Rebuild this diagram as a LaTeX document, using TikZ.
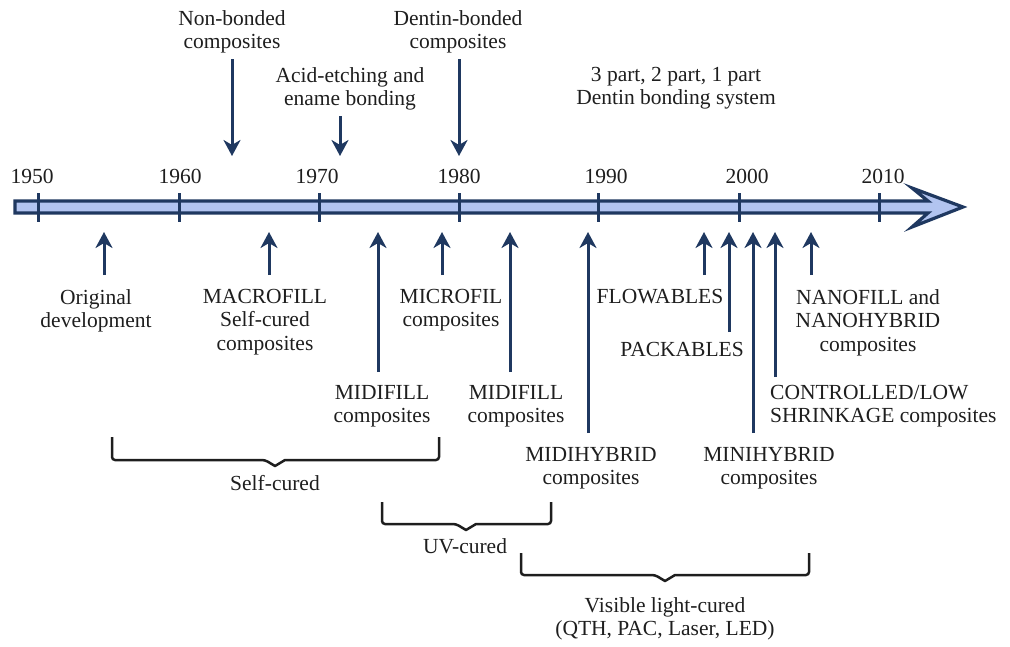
\documentclass[tikz,border=0pt]{standalone}
\usepackage{fontspec}
\setmainfont{Liberation Serif}
\usetikzlibrary{arrows.meta,calc}
\definecolor{navy}{RGB}{31,56,96}
\definecolor{barfill}{RGB}{178,196,240}
\definecolor{txt}{RGB}{30,30,30}
\begin{document}
\begin{tikzpicture}[x=1pt,y=-1pt,
 lbl/.style={font=\fontsize{21.5}{23.5}\selectfont, text=txt, inner sep=0pt, align=center, anchor=north},
 yr/.style={font=\fontsize{21.5}{23.5}\selectfont, text=txt, inner sep=0pt, anchor=base},
 arr/.style={draw=navy, line width=3pt, -{Stealth[length=16pt,width=17pt,inset=5pt]}},
 tickmark/.style={draw=navy, line width=3pt},
 brace/.style={draw=txt, line width=2.5pt, rounded corners=3pt, line join=round}]
\useasboundingbox (0,0) rectangle (1010,646);

% timeline bar with arrow head
\draw[navy, fill=barfill, line width=3.2pt, line join=miter]
  (15,201) -- (928,201) -- (912,188) -- (963,207) -- (912,227) -- (928,213) -- (15,213) -- cycle;

% ticks and years
\foreach \x in {38,179,319,459,598,739,879} { \draw[tickmark] (\x,193) -- (\x,222); }
\node[yr] (y1950) at (32,183) {1950};
\node[yr] (y1960) at (180,183) {1960};
\node[yr] (y1970) at (317,183) {1970};
\node[yr] (y1980) at (459,183) {1980};
\node[yr] (y1990) at (606,183) {1990};
\node[yr] (y2000) at (747,183) {2000};
\node[yr] (y2010) at (883,183) {2010};

% top labels
\node[lbl] (nonb) at (232,10) {Non-bonded\\composites};
\node[lbl] (acid) at (350,67) {Acid-etching and\\ename bonding};
\node[lbl] (dent) at (458,10) {Dentin-bonded\\composites};
\node[lbl] (part) at (676,67) {3 part, 2 part, 1 part\\Dentin bonding system};

\coordinate (dn1) at (232,156);
\coordinate (dn2) at (340,156);
\coordinate (dn3) at (459,156);
\draw[arr] ($(nonb.south -| dn1)+(0,6)$) -- (dn1);
\draw[arr] ($(acid.south -| dn2)+(0,6)$) -- (dn2);
\draw[arr] ($(dent.south -| dn3)+(0,6)$) -- (dn3);

% bottom labels
\node[lbl] (orig) at (96,289) {Original\\development};
\node[lbl] (macro) at (265,289) {MACROFILL\\Self-cured\\composites};
\node[lbl] (micro) at (451,289) {MICROFIL\\composites};
\node[lbl] (midi1) at (382,385) {MIDIFILL\\composites};
\node[lbl] (midi2) at (516,385) {MIDIFILL\\composites};
\node[lbl] (midih) at (591,447) {MIDIHYBRID\\composites};
\node[lbl] (flow) at (660,289) {FLOWABLES};
\node[lbl] (pack) at (682,342) {PACKABLES};
\node[lbl] (minih) at (769,447) {MINIHYBRID\\composites};
\node[lbl, align=left, anchor=north west] (ctrl) at (770,385) {CONTROLLED/LOW\\SHRINKAGE composites};
\node[lbl] (nano) at (868,289) {NANOFILL and\\NANOHYBRID\\composites};

\coordinate (u1) at (104,232);
\coordinate (u2) at (269,232);
\coordinate (u3) at (378,232);
\coordinate (u4) at (442,232);
\coordinate (u5) at (510,232);
\coordinate (u6) at (588,232);
\coordinate (u7) at (704,232);
\coordinate (u8) at (729,232);
\coordinate (u9) at (753,232);
\coordinate (u10) at (775,232);
\coordinate (u11) at (811,232);

\draw[arr] ($(orig.north -| u1)+(0,-14)$) -- (u1);
\draw[arr] ($(macro.north -| u2)+(0,-14)$) -- (u2);
\draw[arr] ($(midi1.north -| u3)+(0,-13)$) -- (u3);
\draw[arr] ($(micro.north -| u4)+(0,-14)$) -- (u4);
\draw[arr] ($(midi2.north -| u5)+(0,-13)$) -- (u5);
\draw[arr] ($(midih.north -| u6)+(0,-14)$) -- (u6);
\draw[arr] ($(flow.north -| u7)+(0,-14)$) -- (u7);
\draw[arr] ($(pack.north -| u8)+(0,-10)$) -- (u8);
\draw[arr] ($(minih.north -| u9)+(0,-14)$) -- (u9);
\draw[arr] ($(ctrl.north -| u10)+(0,-8)$) -- (u10);
\draw[arr] ($(nano.north -| u11)+(0,-14)$) -- (u11);

% braces
\draw[brace] (112,437) -- (112,460) -- (265,460) [sharp corners] -- (275,466) -- (285,460) [rounded corners=3pt] -- (439,460) -- (439,437);
\node[lbl] (self) at (275,475) {Self-cured};
\draw[brace] (382,502) -- (382,524) -- (456,524) [sharp corners] -- (466,530) -- (476,524) [rounded corners=3pt] -- (551,524) -- (551,502);
\node[lbl] (uv) at (465,538) {UV-cured};
\draw[brace] (521,553) -- (521,575) -- (655,575) [sharp corners] -- (665,581) -- (675,575) [rounded corners=3pt] -- (809,575) -- (809,553);
\node[lbl] (vis) at (665,597) {Visible light-cured\\(QTH, PAC, Laser, LED)};
\end{tikzpicture}
\end{document}
